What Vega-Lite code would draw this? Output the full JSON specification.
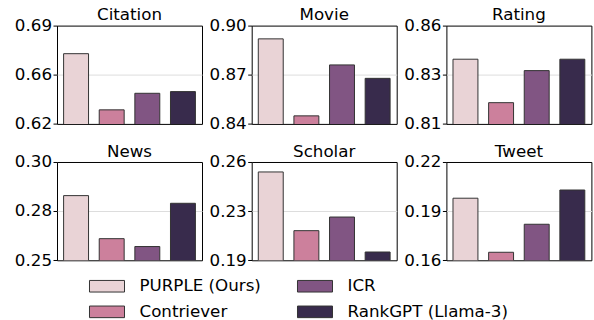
{
  "$schema": "https://vega.github.io/schema/vega-lite/v6.json",
  "padding": {"left": 13, "top": 6.6, "right": 3.3, "bottom": 0},
  "bounds": "flush",
  "columns": 3,
  "spacing": {"row": 37.4, "column": 49.7},
  "config": {
    "font": "DejaVu Sans",
    "view": {"stroke": "#000000", "strokeWidth": 1},
    "axisY": {"domain": false, "ticks": true, "tickSize": 4, "tickColor": "#000000", "tickWidth": 1, "labelFontSize": 16.7, "labelColor": "#000000", "labelPadding": 1.5, "labelFlush": false, "labelFont": "DejaVu Sans", "grid": true, "gridColor": "#dddddd", "gridWidth": 1, "title": null},
    "title": {"fontSize": 16.7, "fontWeight": "normal", "color": "#000000", "offset": -6.3, "baseline": "alphabetic", "font": "DejaVu Sans", "anchor": "middle"},
    "legend": {"labelFontSize": 16.7, "labelColor": "#000000", "labelFont": "DejaVu Sans", "labelLimit": 0, "symbolType": "M-1.6,-0.53H1.6V0.53H-1.6Z", "symbolSize": 479, "symbolStrokeColor": "#333333", "symbolStrokeWidth": 1, "symbolOpacity": 1, "labelOffset": 21, "rowPadding": 5, "columnPadding": 33, "padding": 0}
  },
  "resolve": {"scale": {"color": "shared"}, "legend": {"color": "shared"}},
  "datasets": {
    "d": [
      {"dataset": "Citation", "method": "PURPLE (Ours)", "score": 0.670},
      {"dataset": "Citation", "method": "Contriever", "score": 0.630},
      {"dataset": "Citation", "method": "ICR", "score": 0.6418},
      {"dataset": "Citation", "method": "RankGPT (Llama-3)", "score": 0.643},
      {"dataset": "Movie", "method": "PURPLE (Ours)", "score": 0.8919},
      {"dataset": "Movie", "method": "Contriever", "score": 0.8449},
      {"dataset": "Movie", "method": "ICR", "score": 0.876},
      {"dataset": "Movie", "method": "RankGPT (Llama-3)", "score": 0.8678},
      {"dataset": "Rating", "method": "PURPLE (Ours)", "score": 0.8429},
      {"dataset": "Rating", "method": "Contriever", "score": 0.8208},
      {"dataset": "Rating", "method": "ICR", "score": 0.8371},
      {"dataset": "Rating", "method": "RankGPT (Llama-3)", "score": 0.8429},
      {"dataset": "News", "method": "PURPLE (Ours)", "score": 0.2829},
      {"dataset": "News", "method": "Contriever", "score": 0.2610},
      {"dataset": "News", "method": "ICR", "score": 0.2570},
      {"dataset": "News", "method": "RankGPT (Llama-3)", "score": 0.2790},
      {"dataset": "Scholar", "method": "PURPLE (Ours)", "score": 0.2529},
      {"dataset": "Scholar", "method": "Contriever", "score": 0.2111},
      {"dataset": "Scholar", "method": "ICR", "score": 0.2208},
      {"dataset": "Scholar", "method": "RankGPT (Llama-3)", "score": 0.1959},
      {"dataset": "Tweet", "method": "PURPLE (Ours)", "score": 0.1979},
      {"dataset": "Tweet", "method": "Contriever", "score": 0.1649},
      {"dataset": "Tweet", "method": "ICR", "score": 0.182},
      {"dataset": "Tweet", "method": "RankGPT (Llama-3)", "score": 0.2029}
    ]
  },
  "concat": [
    {
      "width": 145, "height": 98.3,
      "title": {"text": "Citation"},
      "data": {"name": "d"},
      "transform": [{"filter": "datum.dataset === 'Citation'"}],
      "mark": {"type": "bar", "stroke": "#333333", "strokeWidth": 1, "clip": true},
      "encoding": {
        "x": {"field": "method", "type": "nominal", "sort": ["PURPLE (Ours)", "Contriever", "ICR", "RankGPT (Llama-3)"], "axis": null, "scale": {"paddingInner": 0.3, "paddingOuter": 0.185}},
        "y": {"field": "score", "type": "quantitative", "scale": {"domain": [0.62, 0.69], "zero": false, "nice": false}, "axis": {"values": [0.62, 0.6551, 0.69], "format": ".2f", "gridOpacity": {"condition": {"test": "datum.index == 0.5", "value": 1}, "value": 0}}},
        "color": {"field": "method", "type": "nominal", "scale": {"domain": ["PURPLE (Ours)", "ICR", "Contriever", "RankGPT (Llama-3)"], "range": ["#e9d3d6", "#815583", "#cc809c", "#382b4c"]}, "legend": {"title": null, "orient": "none", "legendX": 38.5, "legendY": 248.75, "columns": 2, "direction": "horizontal"}}
      }
    },
    {
      "width": 145, "height": 98.3,
      "title": {"text": "Movie"},
      "data": {"name": "d"},
      "transform": [{"filter": "datum.dataset === 'Movie'"}],
      "mark": {"type": "bar", "stroke": "#333333", "strokeWidth": 1, "clip": true},
      "encoding": {
        "x": {"field": "method", "type": "nominal", "sort": ["PURPLE (Ours)", "Contriever", "ICR", "RankGPT (Llama-3)"], "axis": null, "scale": {"paddingInner": 0.3, "paddingOuter": 0.185}},
        "y": {"field": "score", "type": "quantitative", "scale": {"domain": [0.84, 0.90], "zero": false, "nice": false}, "axis": {"values": [0.84, 0.87, 0.90], "format": ".2f", "gridOpacity": {"condition": {"test": "datum.index == 0.5", "value": 1}, "value": 0}}},
        "color": {"field": "method", "type": "nominal", "scale": {"domain": ["PURPLE (Ours)", "ICR", "Contriever", "RankGPT (Llama-3)"], "range": ["#e9d3d6", "#815583", "#cc809c", "#382b4c"]}, "legend": {"title": null, "orient": "none", "legendX": 38.5, "legendY": 248.75, "columns": 2, "direction": "horizontal"}}
      }
    },
    {
      "width": 145, "height": 98.3,
      "title": {"text": "Rating"},
      "data": {"name": "d"},
      "transform": [{"filter": "datum.dataset === 'Rating'"}],
      "mark": {"type": "bar", "stroke": "#333333", "strokeWidth": 1, "clip": true},
      "encoding": {
        "x": {"field": "method", "type": "nominal", "sort": ["PURPLE (Ours)", "Contriever", "ICR", "RankGPT (Llama-3)"], "axis": null, "scale": {"paddingInner": 0.3, "paddingOuter": 0.185}},
        "y": {"field": "score", "type": "quantitative", "scale": {"domain": [0.81, 0.86], "zero": false, "nice": false}, "axis": {"values": [0.81, 0.8349, 0.86], "format": ".2f", "gridOpacity": {"condition": {"test": "datum.index == 0.5", "value": 1}, "value": 0}}},
        "color": {"field": "method", "type": "nominal", "scale": {"domain": ["PURPLE (Ours)", "ICR", "Contriever", "RankGPT (Llama-3)"], "range": ["#e9d3d6", "#815583", "#cc809c", "#382b4c"]}, "legend": {"title": null, "orient": "none", "legendX": 38.5, "legendY": 248.75, "columns": 2, "direction": "horizontal"}}
      }
    },
    {
      "width": 145, "height": 98.3,
      "title": {"text": "News"},
      "data": {"name": "d"},
      "transform": [{"filter": "datum.dataset === 'News'"}],
      "mark": {"type": "bar", "stroke": "#333333", "strokeWidth": 1, "clip": true},
      "encoding": {
        "x": {"field": "method", "type": "nominal", "sort": ["PURPLE (Ours)", "Contriever", "ICR", "RankGPT (Llama-3)"], "axis": null, "scale": {"paddingInner": 0.3, "paddingOuter": 0.185}},
        "y": {"field": "score", "type": "quantitative", "scale": {"domain": [0.25, 0.30], "zero": false, "nice": false}, "axis": {"values": [0.25, 0.2751, 0.30], "format": ".2f", "gridOpacity": {"condition": {"test": "datum.index == 0.5", "value": 1}, "value": 0}}},
        "color": {"field": "method", "type": "nominal", "scale": {"domain": ["PURPLE (Ours)", "ICR", "Contriever", "RankGPT (Llama-3)"], "range": ["#e9d3d6", "#815583", "#cc809c", "#382b4c"]}, "legend": {"title": null, "orient": "none", "legendX": 38.5, "legendY": 248.75, "columns": 2, "direction": "horizontal"}}
      }
    },
    {
      "width": 145, "height": 98.3,
      "title": {"text": "Scholar"},
      "data": {"name": "d"},
      "transform": [{"filter": "datum.dataset === 'Scholar'"}],
      "mark": {"type": "bar", "stroke": "#333333", "strokeWidth": 1, "clip": true},
      "encoding": {
        "x": {"field": "method", "type": "nominal", "sort": ["PURPLE (Ours)", "Contriever", "ICR", "RankGPT (Llama-3)"], "axis": null, "scale": {"paddingInner": 0.3, "paddingOuter": 0.185}},
        "y": {"field": "score", "type": "quantitative", "scale": {"domain": [0.19, 0.26], "zero": false, "nice": false}, "axis": {"values": [0.19, 0.2251, 0.26], "format": ".2f", "gridOpacity": {"condition": {"test": "datum.index == 0.5", "value": 1}, "value": 0}}},
        "color": {"field": "method", "type": "nominal", "scale": {"domain": ["PURPLE (Ours)", "ICR", "Contriever", "RankGPT (Llama-3)"], "range": ["#e9d3d6", "#815583", "#cc809c", "#382b4c"]}, "legend": {"title": null, "orient": "none", "legendX": 38.5, "legendY": 248.75, "columns": 2, "direction": "horizontal"}}
      }
    },
    {
      "width": 145, "height": 98.3,
      "title": {"text": "Tweet"},
      "data": {"name": "d"},
      "transform": [{"filter": "datum.dataset === 'Tweet'"}],
      "mark": {"type": "bar", "stroke": "#333333", "strokeWidth": 1, "clip": true},
      "encoding": {
        "x": {"field": "method", "type": "nominal", "sort": ["PURPLE (Ours)", "Contriever", "ICR", "RankGPT (Llama-3)"], "axis": null, "scale": {"paddingInner": 0.3, "paddingOuter": 0.185}},
        "y": {"field": "score", "type": "quantitative", "scale": {"domain": [0.16, 0.22], "zero": false, "nice": false}, "axis": {"values": [0.16, 0.19, 0.22], "format": ".2f", "gridOpacity": {"condition": {"test": "datum.index == 0.5", "value": 1}, "value": 0}}},
        "color": {"field": "method", "type": "nominal", "scale": {"domain": ["PURPLE (Ours)", "ICR", "Contriever", "RankGPT (Llama-3)"], "range": ["#e9d3d6", "#815583", "#cc809c", "#382b4c"]}, "legend": {"title": null, "orient": "none", "legendX": 38.5, "legendY": 248.75, "columns": 2, "direction": "horizontal"}}
      }
    }
  ]
}
